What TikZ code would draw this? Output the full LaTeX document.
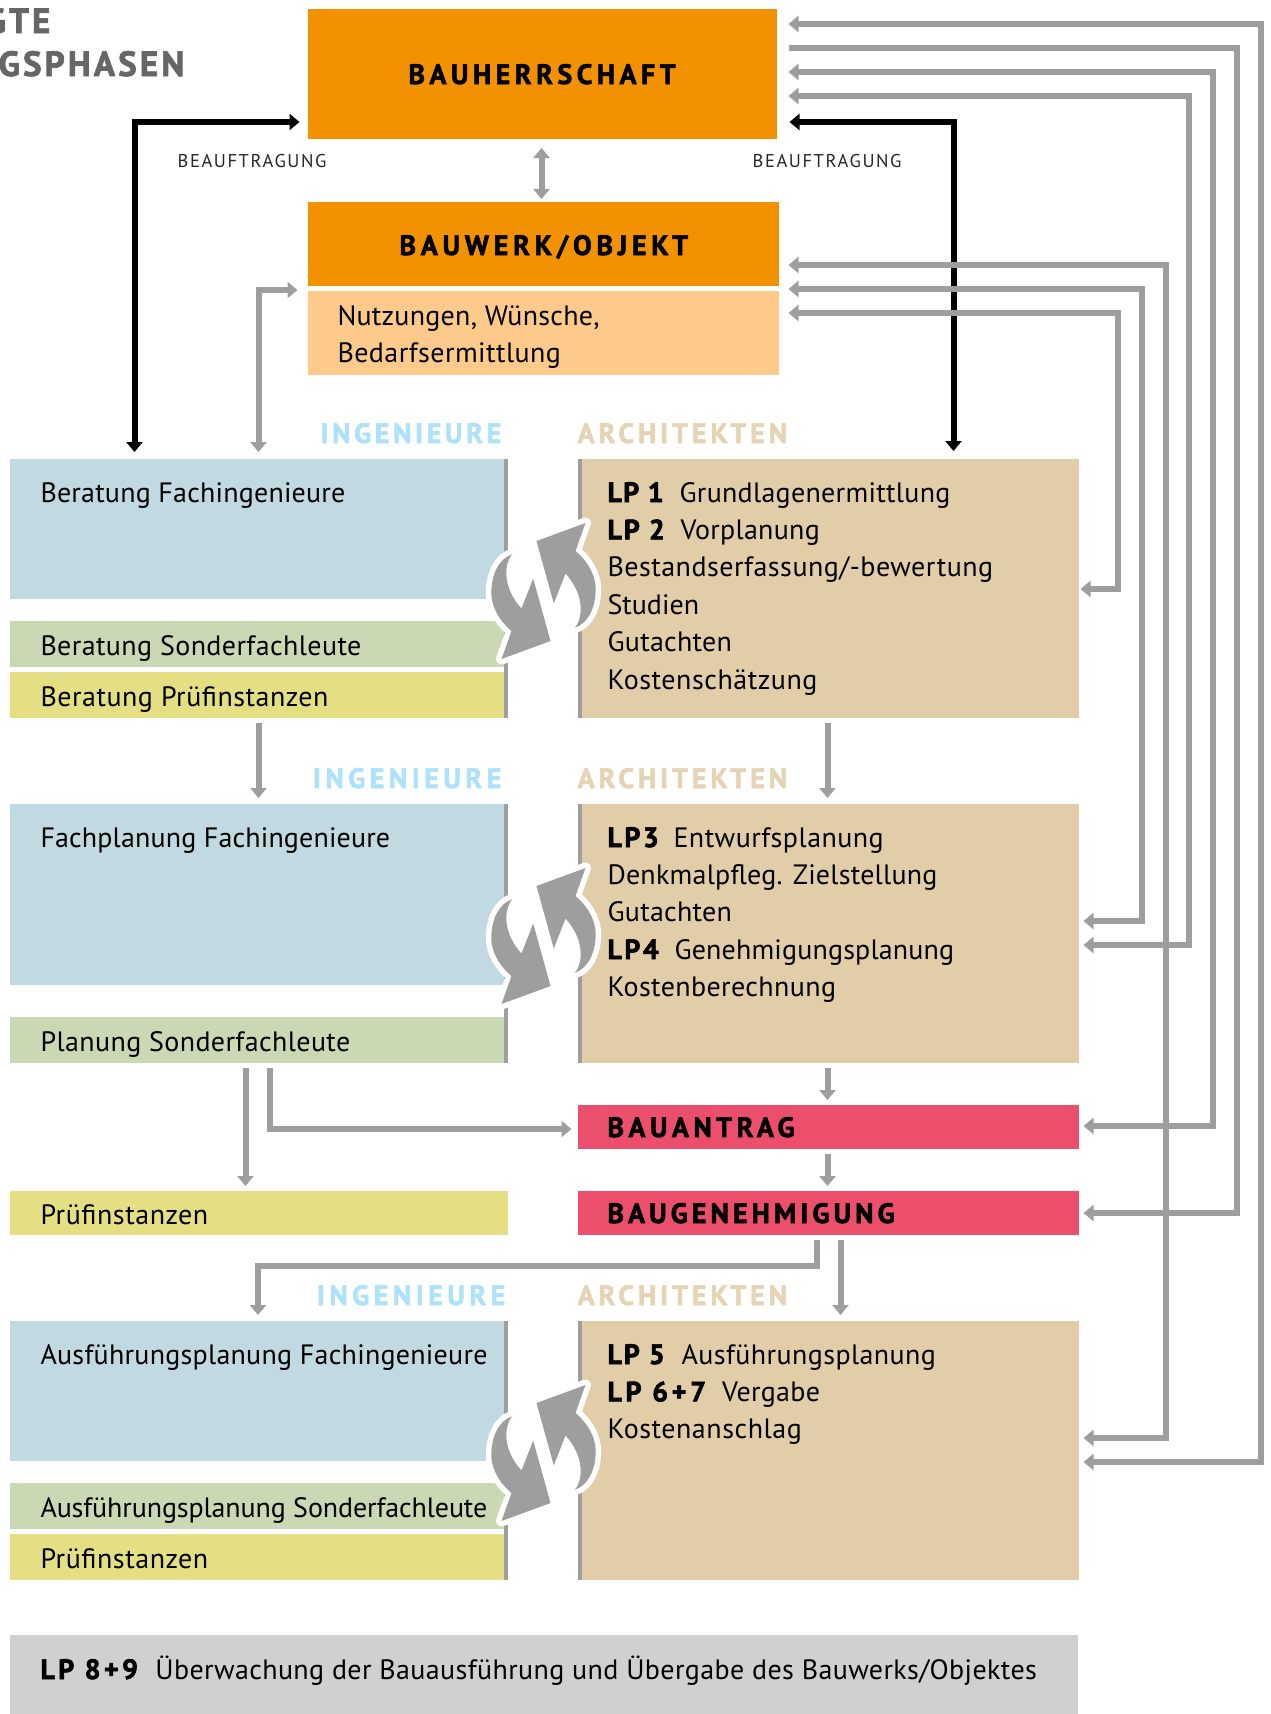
\documentclass[tikz,border=0pt]{standalone}
\usepackage{fontspec}
\setmainfont{PT Sans}
\usetikzlibrary{arrows.meta}
\definecolor{cOrange}{HTML}{F39200}
\definecolor{cLight}{HTML}{FDCA8C}
\definecolor{cBlue}{HTML}{C1D9E0}
\definecolor{cGreen}{HTML}{CBD8B4}
\definecolor{cYellow}{HTML}{E5DF84}
\definecolor{cTan}{HTML}{E1CEA9}
\definecolor{cRed}{HTML}{EB4F6C}
\definecolor{cGray}{HTML}{9D9E9D}
\definecolor{cBottom}{HTML}{CFD0CF}
\definecolor{cIng}{HTML}{AEE1FA}
\definecolor{cArch}{HTML}{E4D4B4}
\definecolor{cTitle}{HTML}{666666}
\newcommand\bodyfont{\fontsize{28}{37.4}\selectfont}
\newcommand\headfont[1]{\fontsize{28}{37.4}\selectfont\bfseries\addfontfeatures{LetterSpace=#1,FakeBold=2}}
\newcommand\tx[2]{{\addfontfeatures{LetterSpace=#1}#2}}
\newcommand\lp[3]{\makebox[#1pt][l]{\bfseries\addfontfeatures{LetterSpace=#2,FakeBold=2}#3}}
% #1 name, #2 x, #3 y, #4 w, #5 h, #6 colour, #7 indent, #8 first baseline below top, #9 text
\newcommand\bx[9]{\node[anchor=north west,inner sep=0pt,outer sep=0pt,fill=#6,text=black] (#1) at (#2,#3)
 {\vbox to #5pt{\hsize=#4pt\leftskip=#7pt\rightskip=0pt plus 1fil\parindent=0pt\baselineskip=37.4pt\lineskiplimit=-1000pt
 \vskip\dimexpr #8pt-37.4pt\relax\prevdepth=0pt #9\par\vfil}};}
\newcommand\arrowpath{(42,-68) -- (32,-40) .. controls (47,-27.5) and (53.7,-10.8) .. (52,2.5) .. controls (51,19) and (43.7,32.5) .. (31.3,36.8) .. controls (40.3,25.8) and (40.3,2.5) .. (22,-17.5) -- (10.3,12.5) -- (-7,-50) -- cycle}
\newcommand\swirl[2]{\begin{scope}[shift={(#1,#2)}]
 \fill[white] (0,0) circle[radius=43];
 \draw[halo] \arrowpath;
 \begin{scope}[rotate=180]\draw[halo] \arrowpath;\end{scope}
 \fill[cGray] \arrowpath;
 \begin{scope}[rotate=180]\fill[cGray] \arrowpath;\end{scope}
 \end{scope}}
\tikzset{
 garr/.style={draw=cGray,line width=6pt,miter limit=10,arrows={-{Triangle[length=10pt,width=16pt]}}},
 gboth/.style={garr,arrows={{Triangle[length=10pt,width=16pt]}-{Triangle[length=10pt,width=16pt]}}},
 karr/.style={draw=black,line width=6pt,arrows={{Triangle[length=10pt,width=16pt]}-{Triangle[length=10pt,width=16pt]}}},
 halo/.style={draw=white,fill=white,line width=11pt,line join=round},
 ingl/.style={anchor=base east,text=cIng,inner sep=0pt},
 archl/.style={anchor=base west,text=cArch,inner sep=0pt,font=\headfont{14}},
 beauf/.style={anchor=base west,inner sep=0pt,text=black!85,font=\fontsize{18.5}{20}\selectfont\addfontfeatures{LetterSpace=8.5}},
 titl/.style={anchor=base east,inner sep=0pt,text=cTitle,font=\fontsize{35}{40}\selectfont\bfseries\addfontfeatures{LetterSpace=9,FakeBold=2}},
}
\begin{document}
\begin{tikzpicture}[x=1pt,y=-1pt]
\clip (-0.5,0) rectangle (1269.5,1714);
\node[titl] (t1) at (50,33) {GTE};
\node[titl] (t2) at (184,76) {GSPHASEN};
% top
\bx{hb}{307}{9}{469}{130}{cOrange}{101}{75}{\headfont{16} BAUHERRSCHAFT}
\bx{bw}{307}{202}{471}{84}{cOrange}{92}{53}{\headfont{17} BAUWERK/OBJEKT}
\bx{nutz}{307}{291}{471}{84}{cLight}{30}{34}{\bodyfont \tx{0.93}{Nutzungen, Wünsche,}\par \tx{1.6}{Bedarfsermittlung}}
\node[beauf] (bl) at (177,167) {BEAUFTRAGUNG};
\node[beauf] (br) at (752,167) {BEAUFTRAGUNG};
% group 1
\node[ingl,font=\headfont{13}] (i1) at (501,443) {INGENIEURE};
\node[archl] (a1) at (577,443) {ARCHITEKTEN};
\bx{berF}{10}{459}{493}{140}{cBlue}{30}{43}{\bodyfont \tx{0.72}{Beratung Fachingenieure}}
\bx{berS}{10}{621}{493}{46}{cGreen}{30}{34}{\bodyfont \tx{1.43}{Beratung Sonderfachleute}}
\bx{berP}{10}{672}{493}{46}{cYellow}{30}{34}{\bodyfont \tx{1.85}{Beratung Prüfinstanzen}}
\bx{lpA}{581}{459}{497}{259}{cTan}{26}{43}{\bodyfont\lp{72}{5}{LP 1}\tx{1.05}{Grundlagenermittlung}\par\lp{73}{7}{LP 2}\tx{1}{Vorplanung}\par \tx{1.78}{Bestandserfassung/-bewertung}\par Studien\par \tx{1}{Gutachten}\par \tx{1.95}{Kostenschätzung}}
\fill[cGray] (berF.north east) rectangle (berP.south east -| 507,718);
\fill[cGray] (lpA.north west) rectangle (577,718);
% group 2
\node[ingl,font=\headfont{16}] (i2) at (501,788) {INGENIEURE};
\node[archl] (a2) at (577,788) {ARCHITEKTEN};
\bx{fpF}{10}{804}{493}{181}{cBlue}{30}{43}{\bodyfont \tx{0.55}{Fachplanung Fachingenieure}}
\bx{plS}{10}{1017}{493}{46}{cGreen}{30}{34}{\bodyfont \tx{1.39}{Planung Sonderfachleute}}
\bx{lpB}{581}{804}{497}{259}{cTan}{26}{43}{\bodyfont\lp{66}{9}{LP3}\tx{1.68}{Entwurfsplanung}\par \tx{0.82}{Denkmalpfleg. Zielstellung}\par \tx{1}{Gutachten}\par\lp{67}{9}{LP4}\tx{0.6}{Genehmigungsplanung}\par \tx{1.39}{Kostenberechnung}}
\fill[cGray] (fpF.north east) rectangle (507,1063);
\fill[cGray] (lpB.north west) rectangle (577,1063);
% middle
\bx{pruef}{10}{1191}{497}{44}{cYellow}{30}{33}{\bodyfont \tx{1.95}{Prüfinstanzen}}
\bx{antrag}{577}{1105}{501}{44}{cRed}{30}{32}{\headfont{16} BAUANTRAG}
\bx{geneh}{577}{1191}{501}{44}{cRed}{30}{32}{\headfont{14.5} BAUGENEHMIGUNG}
% group 3
\node[ingl,font=\headfont{16}] (i3) at (505,1305) {INGENIEURE};
\node[archl] (a3) at (577,1305) {ARCHITEKTEN};
\bx{ausF}{10}{1321}{493}{140}{cBlue}{30}{43}{\bodyfont \tx{0.92}{Ausführungsplanung Fachingenieure}}
\bx{ausS}{10}{1483}{493}{46}{cGreen}{30}{34}{\bodyfont \tx{-0.41}{Ausführungsplanung Sonderfachleute}}
\bx{ausP}{10}{1534}{493}{46}{cYellow}{30}{34}{\bodyfont \tx{1.95}{Prüfinstanzen}}
\bx{lpC}{581}{1321}{497}{259}{cTan}{26}{43}{\bodyfont\lp{74}{7}{LP 5}\tx{1.51}{Ausführungsplanung}\par\lp{114.5}{13}{LP 6+7}\tx{1.04}{Vergabe}\par \tx{1.93}{Kostenanschlag}}
\fill[cGray] (ausF.north east) rectangle (507,1580);
\fill[cGray] (lpC.north west) rectangle (577,1580);
\bx{lpD}{10}{1635}{1067}{79}{cBottom}{30}{44}{\bodyfont\lp{115}{12}{LP 8+9}\tx{1.34}{Überwachung der Bauausführung und Übergabe des Bauwerks/Objektes}}
% swirls
\swirl{543}{591}
\swirl{543}{936}
\swirl{543}{1453}
% free ends of connectors
\coordinate (hbL) at (299,122); \coordinate (hbR) at (789,122);
\coordinate (hb1) at (788,24); \coordinate (hb2) at (788,48); \coordinate (hb3) at (788,72); \coordinate (hb4) at (788,96);
\coordinate (bw1) at (788,265); \coordinate (bw2) at (788,289); \coordinate (bw3) at (788,313);
\coordinate (bwL) at (297,290);
\coordinate (inBerK) at (134,452); \coordinate (inBerG) at (258,452); \coordinate (inLpK) at (953,451);
\coordinate (hbD) at (541,148); \coordinate (bwU) at (541,199);
% black
\draw[karr] (hbL) -| (inBerK);
\draw[karr] (hbR) -| (inLpK);
% grey
\draw[gboth] (hbD) -- (bwU);
\draw[gboth] (bwL) -| (inBerG);
\draw[gboth] (hb1) -- (1260,24) -- (1260,1462) -- (1083,1462);
\draw[garr] (hb2) -- (1236,48) -- (1236,1213) -- (1083,1213);
\draw[gboth] (hb3) -- (1212,72) -- (1212,1126) -- (1083,1126);
\draw[gboth] (hb4) -- (1188,96) -- (1188,945) -- (1083,945);
\draw[gboth] (bw1) -- (1165,265) -- (1165,1438) -- (1083,1438);
\draw[gboth] (bw2) -- (1141,289) -- (1141,921) -- (1083,921);
\draw[gboth] (bw3) -- (1117,313) -- (1117,589) -- (1080,589);
\coordinate (s1) at (258,723); \coordinate (e1) at (258,798);
\draw[garr] (s1) -- (e1);
\coordinate (s2) at (827,723); \coordinate (e2) at (827,798);
\draw[garr] (s2) -- (e2);
\coordinate (s3) at (827,1068); \coordinate (e3) at (827,1100);
\draw[garr] (s3) -- (e3);
\coordinate (s4) at (827,1154); \coordinate (e4) at (827,1186);
\draw[garr] (s4) -- (e4);
\coordinate (s5) at (245,1068); \coordinate (e5) at (245,1186);
\draw[garr] (s5) -- (e5);
\coordinate (s6) at (269,1068); \coordinate (e6) at (571,1129);
\draw[garr] (s6) |- (e6);
\coordinate (s7) at (816,1240); \coordinate (e7) at (257.5,1315);
\draw[garr] (s7) -- (816,1266) -- (257.5,1266) -- (e7);
\coordinate (s8) at (840,1240); \coordinate (e8) at (840,1315);
\draw[garr] (s8) -- (e8);
\end{tikzpicture}
\end{document}
